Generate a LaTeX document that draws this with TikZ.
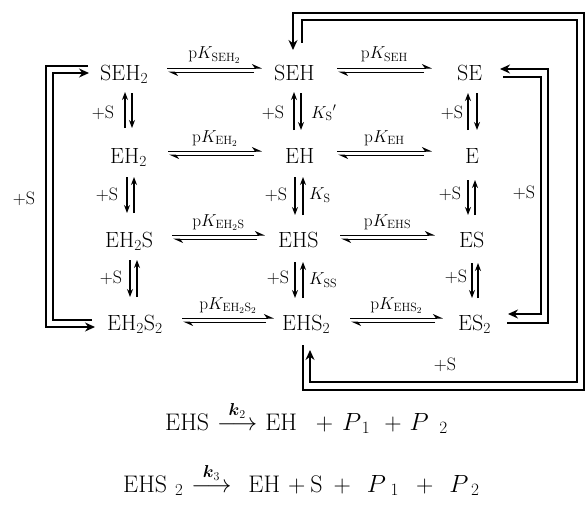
\documentclass[tikz,border=0pt]{standalone}
\usepackage{amsmath}
\usetikzlibrary{arrows.meta}
\newcommand\eqpair[6]{%
  \draw[harp] ([shift={(#3,-12)}]#1.base west) -- node[lab, anchor=base, yshift=9pt] (#6) {#5} ([shift={(#4,-12)}]#2.base west);
  \draw[harp] ([shift={(#4-8,-8)}]#2.base west) -- ([shift={(#3+1,-8)}]#1.base west);}
\begin{document}
\begin{tikzpicture}[x=1pt,y=-1pt,
  sp/.style={font=\fontsize{22}{26}\selectfont, inner sep=0pt, anchor=base west},
  lab/.style={font=\fontsize{18}{21}\selectfont, inner sep=0pt},
  harp/.style={line width=1pt, -{Stealth[harpoon,length=9pt,width=8pt]}},
  varr/.style={line width=1.2pt, -{Stealth[length=8pt,width=6pt]}},
  loopar/.style={line width=1.3pt, -{Stealth[length=10pt,width=9pt]}},
  eqn/.style={font=\fontsize{24}{28}\selectfont, inner sep=0pt, anchor=base west}]
\useasboundingbox (0,0) rectangle (585,511);

% species
\node[sp] (SEH2) at (100,80) {SEH\textsubscript{2}};
\node[sp] (SEH) at (274,80) {SEH};
\node[sp] (SE) at (457,80) {SE};
\node[sp] (EH2) at (110,163) {EH\textsubscript{2}};
\node[sp] (EH) at (285,163) {EH};
\node[sp] (E) at (465,163) {E};
\node[sp] (EH2S) at (105,247) {EH\textsubscript{2}S};
\node[sp] (EHS) at (278,247) {EHS};
\node[sp] (ES) at (459,247) {ES};
\node[sp] (EH2S2) at (107,330) {EH\textsubscript{2}S\textsubscript{2}};
\node[sp] (EHS2) at (282,330) {EHS\textsubscript{2}};
\node[sp] (ES2) at (458,330) {ES\textsubscript{2}};

% horizontal equilibria
\eqpair{SEH2}{SEH}{67}{-12}{$\mathrm{p}K_{\mathrm{SEH}_2}$}{k1}
\eqpair{SEH}{SE}{63}{-25}{$\mathrm{p}K_{\mathrm{SEH}}$}{k2}
\eqpair{EH2}{EH}{58}{-23}{$\mathrm{p}K_{\mathrm{EH}_2}$}{k3}
\eqpair{EH}{E}{52}{-33}{$\mathrm{p}K_{\mathrm{EH}}$}{k4}
\eqpair{EH2S}{EHS}{67}{-13}{$\mathrm{p}K_{\mathrm{EH}_2\mathrm{S}}$}{k5}
\eqpair{EHS}{ES}{62}{-24}{$\mathrm{p}K_{\mathrm{EHS}}$}{k6}
\eqpair{EH2S2}{EHS2}{75}{-8}{$\mathrm{p}K_{\mathrm{EH}_2\mathrm{S}_2}$}{k7}
\eqpair{EHS2}{ES2}{68}{-15}{$\mathrm{p}K_{\mathrm{EHS}_2}$}{k8}

% vertical equilibria, column 1
\draw[varr] ([shift={(15,-35)}]EH2.base west) -- ([shift={(25,12)}]SEH2.base west);
\draw[varr] ([shift={(32,13)}]SEH2.base west) -- ([shift={(22,-35)}]EH2.base west);
\draw[varr] ([shift={(17,14)}]EH2.base west) -- ([shift={(22,-34)}]EH2S.base west);
\draw[varr] ([shift={(29,-34)}]EH2S.base west) -- ([shift={(24,14)}]EH2.base west);
\draw[varr] ([shift={(25,13)}]EH2S.base west) -- ([shift={(23,-33)}]EH2S2.base west);
\draw[varr] ([shift={(30,-33)}]EH2S2.base west) -- ([shift={(32,13)}]EH2S.base west);
% column 2
\draw[varr] ([shift={(9,-33)}]EH.base west) -- ([shift={(20,12)}]SEH.base west);
\draw[varr] ([shift={(27,13)}]SEH.base west) -- ([shift={(16,-33)}]EH.base west);
\draw[varr] ([shift={(10,14)}]EH.base west) -- ([shift={(17,-32)}]EHS.base west);
\draw[varr] ([shift={(25,-32)}]EHS.base west) -- ([shift={(18,14)}]EH.base west);
\draw[varr] ([shift={(17,15)}]EHS.base west) -- ([shift={(13,-32)}]EHS2.base west);
\draw[varr] ([shift={(21,-32)}]EHS2.base west) -- ([shift={(25,15)}]EHS.base west);
% column 3
\draw[varr] ([shift={(3,-33)}]E.base west) -- ([shift={(11,13)}]SE.base west);
\draw[varr] ([shift={(20,13)}]SE.base west) -- ([shift={(12,-33)}]E.base west);
\draw[varr] ([shift={(3,17)}]E.base west) -- ([shift={(9,-32)}]ES.base west);
\draw[varr] ([shift={(16,-32)}]ES.base west) -- ([shift={(10,17)}]E.base west);
\draw[varr] ([shift={(13,16)}]ES.base west) -- ([shift={(14,-32)}]ES2.base west);
\draw[varr] ([shift={(20,-32)}]ES2.base west) -- ([shift={(19,16)}]ES.base west);

% vertical labels
\node[lab] (s1) at (103,113) {+S};
\node[lab] (s2) at (107,195) {+S};
\node[lab] (s3) at (111,278) {+S};
\node[lab] (s4) at (273,113) {+S};
\node[lab] (s5) at (276,195) {+S};
\node[lab] (s6) at (278,278) {+S};
\node[lab] (s7) at (452,113) {+S};
\node[lab] (s8) at (450,194) {+S};
\node[lab] (s9) at (456,277) {+S};
\node[lab, anchor=west] (ks1) at (311,113) {$K_{\mathrm{S}}{}'$};
\node[lab, anchor=west] (ks2) at (309,195) {$K_{\mathrm{S}}$};
\node[lab, anchor=west] (ks3) at (309,280) {$K_{\mathrm{SS}}$};

% left loop
\draw[loopar] ([shift={(-12,-14)}]SEH2.base west) -- ++(-42,0) |- ([shift={(-12,-3)}]EH2S2.base west);
\draw[loopar] ([shift={(-15,-10)}]EH2S2.base west) -- ++(-39,0) |- ([shift={(-11,-7)}]SEH2.base west);
\node[lab] (sL) at (24,199) {+S};

% right loop
\draw[loopar] ([shift={(49,-7)}]ES2.base west) -- ++(41,0) |- ([shift={(43,-11)}]SE.base west);
\draw[loopar] ([shift={(46,-3)}]SE.base west) -- ++(38,0) |- ([shift={(50,-16)}]ES2.base west);
\node[lab] (sR) at (524,193) {+S};

% big loop
\draw[loopar] ([shift={(21,15)}]EHS2.base west) -- ++(0,45) -- ++(281,0) -- ++(0,-377) -| ([shift={(19,-30)}]SEH.base west);
\draw[loopar] ([shift={(28,-37)}]SEH.base west) -- ++(0,-23) -- ++(275,0) -- ++(0,362) -| ([shift={(28,20)}]EHS2.base west);
\node[lab] (sB) at (445,365) {+S};

% reactions
\node[eqn] (r1) at (165,430) {EHS\hspace{8pt}$\overset{\boldsymbol{k}_2}{\longrightarrow}$\hspace{8pt}EH\hspace{19pt}+\hspace{9pt}$P_{\hspace{4pt}1}$\hspace{14pt}+\hspace{8pt}$P_{\hspace{14pt}2}$};
\node[eqn] (r2) at (123,492) {EHS\hspace{8pt}\textsubscript{2}\hspace{8pt}$\overset{\boldsymbol{k}_3}{\longrightarrow}$\hspace{17pt}EH\hspace{8pt}+\hspace{5pt}S\hspace{11pt}+\hspace{16pt}$P_{\hspace{8pt}1}$\hspace{17pt}+\hspace{16pt}$P_{\hspace{6pt}2}$};
\end{tikzpicture}
\end{document}
